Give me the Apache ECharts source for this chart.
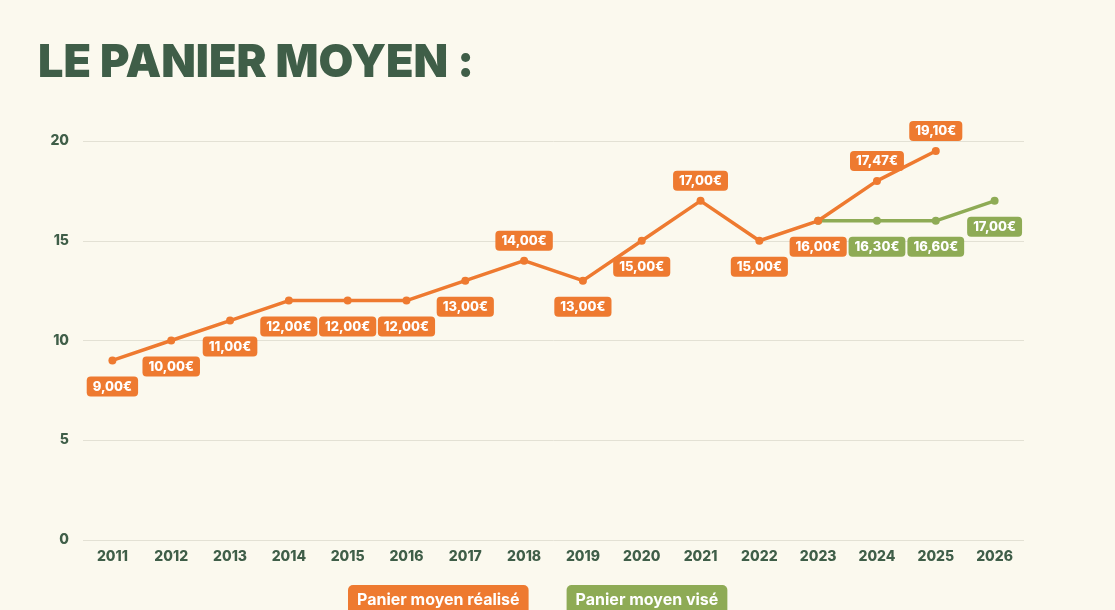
<!DOCTYPE html>
<html><head><meta charset="utf-8">
<script src="https://cdn.jsdelivr.net/npm/echarts@6/dist/echarts.min.js"></script>
<style>html,body{margin:0;padding:0;background:#fbf9ee}#c{width:1115px;height:610px}</style>
</head><body><div id="c"></div>
<script>
const years = ['2011','2012','2013','2014','2015','2016','2017','2018','2019','2020','2021','2022','2023','2024','2025','2026'];
const realise = [9,10,11,12,12,12,13,14,13,15,17,15,16,18,19.5,null];
const realiseLabels = ['9,00€','10,00€','11,00€','12,00€','12,00€','12,00€','13,00€','14,00€','13,00€','15,00€','17,00€','15,00€','16,00€','17,47€','19,10€',''];
const vise = [null,null,null,null,null,null,null,null,null,null,null,null,16,16,16,17];
const viseLabels = ['','','','','','','','','','','','','','16,30€','16,60€','17,00€'];
const realiseLabelsAbove = ['2018','2021','2024','2025'];
const viseLabelsAbove = [];
const yTicks = [0,5,10,15,20];

const ORANGE = '#ee7a30', GREEN = '#8eab55', DARK = '#3f5e48';
const font = 'Inter';

function mkData(vals, labels, aboveList) {
  return vals.map((v, i) => {
    if (v == null) return null;
    const above = aboveList.includes(years[i]);
    return {
      value: v,
      label: {
        show: labels[i] !== '',
        position: above ? 'top' : 'bottom',
        distance: above ? 6 : 12,
        formatter: () => labels[i]
      }
    };
  });
}
const labelStyle = (color) => ({
  color: '#fff', fontFamily: font, fontWeight: 800, fontSize: 13,
  backgroundColor: color, borderRadius: 4, padding: [4, 6, 3, 6]
});

const chart = echarts.init(document.getElementById('c'));
chart.setOption({
  backgroundColor: '#fbf9ee',
  animation: false,
  title: {
    text: 'LE PANIER MOYEN :', left: 33, top: 36,
    textStyle: { fontFamily: font, fontWeight: 900, fontSize: 45, color: DARK }
  },
  grid: { left: 83, right: 91, top: 141, bottom: 70 },
  xAxis: {
    type: 'category', data: years, boundaryGap: true,
    axisLine: { show: false }, axisTick: { show: false },
    axisLabel: { color: DARK, fontFamily: font, fontWeight: 800, fontSize: 14, margin: 10 }
  },
  yAxis: {
    type: 'value', min: yTicks[0], max: yTicks[yTicks.length - 1], interval: 5,
    axisLine: { show: false }, axisTick: { show: false },
    splitLine: { lineStyle: { color: '#e3e1d4', width: 1 } },
    axisLabel: { color: DARK, fontFamily: font, fontWeight: 800, fontSize: 14, margin: 14 }
  },
  legend: {
    bottom: -10, left: 338, itemGap: 33, itemWidth: 0, itemHeight: 0, icon: 'rect',
    data: [
      { name: 'Panier moyen réalisé', textStyle: { backgroundColor: ORANGE } },
      { name: 'Panier moyen visé', textStyle: { backgroundColor: GREEN } }
    ],
    textStyle: { color: '#fff', fontFamily: font, fontWeight: 700, fontSize: 16, padding: [5, 9, 9, 9], borderRadius: 5 }
  },
  series: [
    {
      name: 'Panier moyen visé', type: 'line', data: mkData(vise, viseLabels, viseLabelsAbove),
      symbol: 'circle', symbolSize: 8, color: GREEN,
      lineStyle: { width: 3.5, color: GREEN }, itemStyle: { color: GREEN },
      label: labelStyle(GREEN), z: 2
    },
    {
      name: 'Panier moyen réalisé', type: 'line', data: mkData(realise, realiseLabels, realiseLabelsAbove),
      symbol: 'circle', symbolSize: 8, color: ORANGE,
      lineStyle: { width: 3.5, color: ORANGE }, itemStyle: { color: ORANGE },
      label: labelStyle(ORANGE), z: 3
    }
  ]
});
</script></body></html>
